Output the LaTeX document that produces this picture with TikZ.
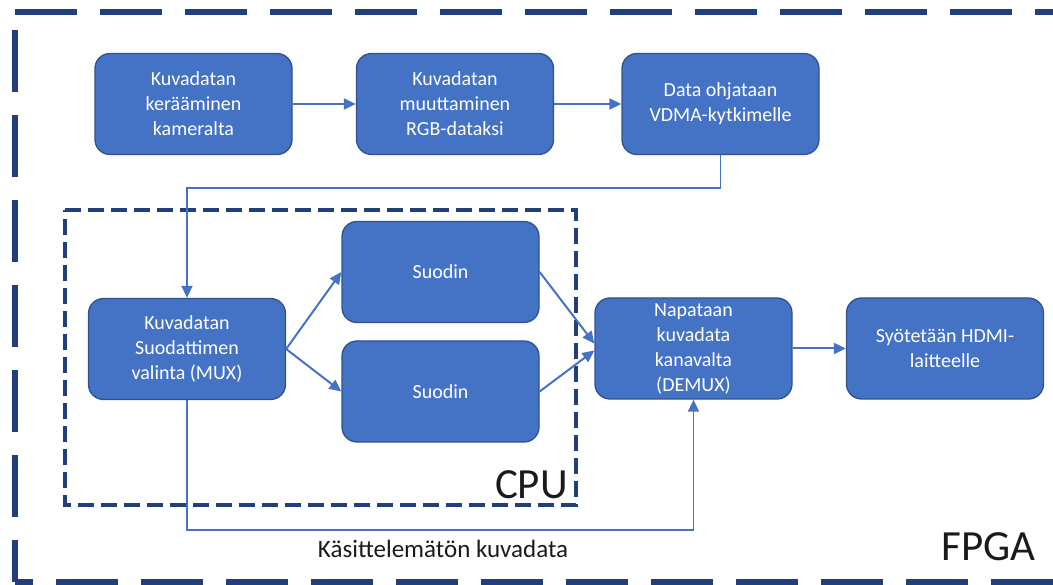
\documentclass[tikz,border=0pt]{standalone}
\usepackage{fontspec}
\setmainfont{Carlito}
\usetikzlibrary{arrows.meta}
\definecolor{boxfill}{HTML}{4472C4}
\definecolor{boxedge}{HTML}{2F528F}
\definecolor{framenavy}{HTML}{203F7C}
\definecolor{labelink}{HTML}{1A1A1A}
\tikzset{
  stage/.style={draw=boxedge, line width=1.3pt, fill=boxfill, rounded corners=15pt,
    minimum width=197pt, minimum height=101pt, inner sep=0pt, text=white,
    align=center, font=\fontsize{20}{25}\selectfont},
  flow/.style={draw=boxfill, line width=2pt, -{Triangle[length=12pt,width=11pt]}},
  route/.style={draw=boxfill, line width=1.6pt, -{Triangle[length=12pt,width=11pt]}},
  fpgaedge/.style={draw=framenavy, line width=6pt, dash pattern=on 62pt off 23pt},
  cpuedge/.style={draw=framenavy, line width=3.5pt, dash pattern=on 16pt off 7pt},
  biglabel/.style={text=labelink, inner sep=0pt, font=\fontsize{43}{43}\selectfont},
  smalllabel/.style={text=labelink, inner sep=0pt, font=\fontsize{25}{25}\selectfont}
}
\begin{document}
\begin{tikzpicture}[x=1pt, y=-1pt]
\useasboundingbox (0,0) rectangle (1053,585);

% FPGA frame (right side lies beyond the page)
\draw[fpgaedge, dash phase=0pt]  (15,12) -- (1100,12);
\draw[fpgaedge, dash phase=67pt] (15,12) -- (15,582);
\draw[fpgaedge, dash phase=44pt] (15,582) -- (1100,582);

% CPU frame
\draw[cpuedge] (65,210) -- (576,210) -- (576,505) -- (65,505) -- cycle;

% processing stages
\node[stage] (cam)   at (193.5,104) {Kuvadatan\\kerääminen\\kameralta};
\node[stage] (rgb)   at (455,104)   {Kuvadatan\\muuttaminen\\RGB-dataksi};
\node[stage] (vdma)  at (720.5,104) {Data ohjataan\\VDMA-kytkimelle};
\node[stage] (mux)   at (187,349)   {Kuvadatan\\Suodattimen\\valinta (MUX)};
\node[stage] (filt1) at (440.5,272) {Suodin};
\node[stage] (filt2) at (440.5,391.5) {Suodin};
\node[stage] (demux) at (693.5,348.5) {Napataan\\kuvadata\\kanavalta\\(DEMUX)};
\node[stage] (hdmi)  at (945,348.5) {Syötetään HDMI-\\laitteelle};

% connectors
\draw[flow] (cam) -- (rgb);
\draw[flow] (rgb) -- (vdma);
\draw[route] (vdma.south) -- ++(0,33) -| (mux.north);
\draw[flow] (mux.east) -- (filt1.west);
\draw[flow] (mux.east) -- (filt2.west);
\draw[flow] (filt1.east) -- ([yshift=5pt]demux.west);
\draw[flow] (filt2.east) -- ([yshift=-2pt]demux.west);
\draw[flow] (demux) -- (hdmi);
\draw[route] (mux.south) -- ++(0,130) -| (demux.south);

% labels
\node[biglabel, anchor=base east] (cpulbl) at (568,498) {CPU};
\node[biglabel, anchor=base east] (fpgalbl) at (1036,560) {FPGA};
\node[smalllabel, anchor=base] (rawlbl) at (443,557) {Käsittelemätön kuvadata};
\end{tikzpicture}
\end{document}
